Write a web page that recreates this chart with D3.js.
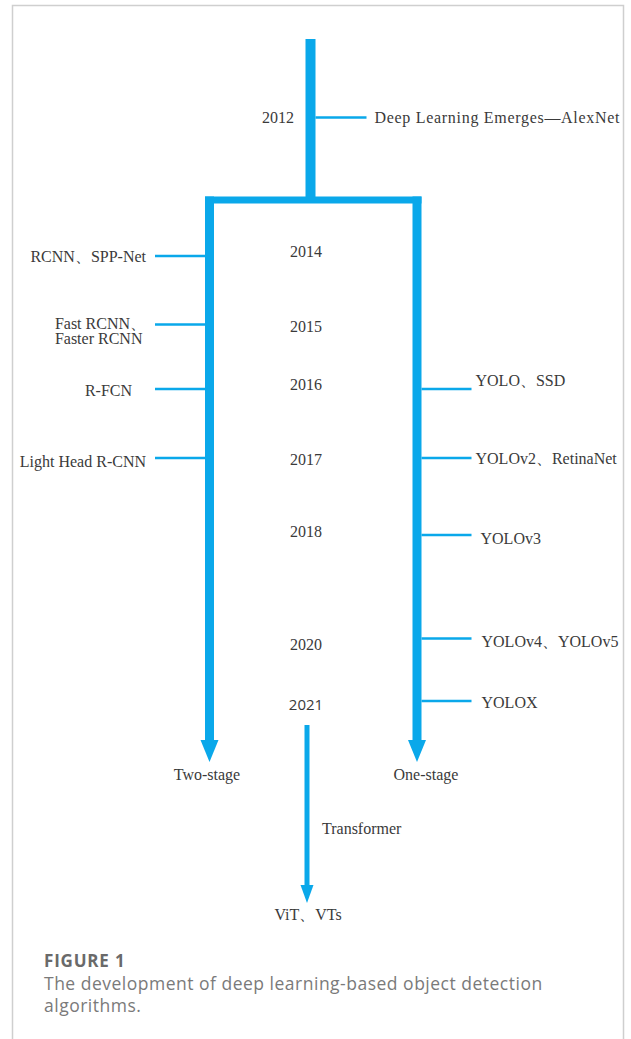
<!DOCTYPE html>
<html lang="en">
    <head>
        <meta charset="UTF-8" />
        <title>Object detection timeline</title>
        <style>
            body { margin: 0; background: #fff; }
        </style>
    </head>
    <body>
        <div id="main"></div>
        <script src="https://cdn.jsdelivr.net/npm/d3@7"></script>
        <script>
            // chart content
            const years = [2012, 2014, 2015, 2016, 2017, 2018, 2020, 2021]
            const originYear = 2012
            const originLabel = "Deep Learning Emerges—AlexNet"
            const twoStageYears = [2014, 2015, 2016, 2017]
            const twoStageModels = ["RCNN、SPP-Net", "Fast RCNN、\nFaster RCNN", "R-FCN", "Light Head R-CNN"]
            const oneStageYears = [2016, 2017, 2018, 2020, 2021]
            const oneStageModels = ["YOLO、SSD", "YOLOv2、RetinaNet", "YOLOv3", "YOLOv4、YOLOv5", "YOLOX"]
            const branchNames = ["Two-stage", "Transformer", "One-stage"]
            const transformerModels = "ViT、VTs"
            const captionTitle = "FIGURE 1"
            const captionLines = ["The development of deep learning-based object detection", "algorithms."]

            // layout
            const svgWidth = 631
            const svgHeight = 1039
            const blue = "#0aa8ea"
            const ink = "#3a3a3a"
            const serif = "'Liberation Serif', 'Times New Roman', serif"
            const sans = "'Open Sans', 'Noto Sans', sans-serif"
            const fontSize = 16
            const tickLength = 50
            const splitY = 200
            const stageTipY = 762
            const transformerTop = 725
            const transformerTipY = 903

            // year -> y of the branch ticks, year -> baseline of the year text
            const tickY = d3.scaleLinear()
                .domain(years)
                .range([117.5, 256, 324.5, 389, 458, 535, 638.5, 701])
            const yearY = d3.scaleLinear()
                .domain(years)
                .range([123, 256.7, 331.7, 390, 465, 537.3, 650, 710])
            const lane = d3.scaleOrdinal()
                .domain(["root", ...branchNames])
                .range([310.5, 209.5, 307, 417])

            // small hand placement tweaks for labels [dx, dy]
            const nudge = {
                "R-FCN": [-14, 1],
                "Light Head R-CNN": [0, 3],
                "YOLO、SSD": [-3, -9],
                "YOLOv2、RetinaNet": [-3, 0],
                "YOLOv3": [2, 3],
                "YOLOv4、YOLOv5": [3, 3],
                "YOLOX": [3, 1],
                "Two-stage": [-2.5, 0],
                "One-stage": [9, 0],
            }
            const nd = (k) => nudge[k] || [0, 0]

            const svg = d3.select("#main").append("svg")
                .attr("width", svgWidth)
                .attr("height", svgHeight)
                .style("display", "block")

            // frame
            svg.append("path")
                .attr("d", `M12.5,${svgHeight + 2}V5.5H623.5V${svgHeight + 2}`)
                .attr("fill", "none")
                .attr("stroke", "#cfcfcf")
                .attr("stroke-width", 1.5)

            const g = svg.append("g")

            // trunk and split bar
            g.append("rect")
                .attr("x", lane("root") - 5)
                .attr("y", 39)
                .attr("width", 10)
                .attr("height", splitY - 39)
                .attr("fill", blue)
            g.append("rect")
                .attr("x", lane("Two-stage") - 4.5)
                .attr("y", splitY - 3.5)
                .attr("width", lane("One-stage") - lane("Two-stage") + 9)
                .attr("height", 7)
                .attr("fill", blue)

            // two stage arrows
            const stages = ["Two-stage", "One-stage"]
            g.selectAll("rect.stage")
                .data(stages)
                .enter()
                .append("rect")
                .classed("stage", true)
                .attr("x", (d) => lane(d) - 4.5)
                .attr("y", splitY - 3.5)
                .attr("width", 9)
                .attr("height", stageTipY - 20 - splitY + 3.5)
                .attr("fill", blue)
            g.selectAll("path.stagehead")
                .data(stages)
                .enter()
                .append("path")
                .classed("stagehead", true)
                .attr("d", (d) => {
                    const x = lane(d)
                    return `M${x - 9},${stageTipY - 22}L${x + 9},${stageTipY - 22}L${x},${stageTipY}Z`
                })
                .attr("fill", blue)

            // transformer arrow
            const tx = lane("Transformer")
            g.append("rect")
                .attr("x", tx - 2.5)
                .attr("y", transformerTop)
                .attr("width", 5)
                .attr("height", transformerTipY - 17 - transformerTop)
                .attr("fill", blue)
            g.append("path")
                .attr("d", `M${tx - 6.5},${transformerTipY - 18}L${tx + 6.5},${transformerTipY - 18}L${tx},${transformerTipY}Z`)
                .attr("fill", blue)

            // branch ticks
            const leftEdge = lane("Two-stage") - 4.5
            const rightEdge = lane("One-stage") + 4.5
            const ticks = [
                { x1: lane("root") + 5, x2: lane("root") + 5 + 51, year: originYear },
                ...twoStageYears.map((y) => ({ x1: leftEdge - tickLength, x2: leftEdge, year: y })),
                ...oneStageYears.map((y) => ({ x1: rightEdge, x2: rightEdge + tickLength, year: y })),
            ]
            g.selectAll("line.tick")
                .data(ticks)
                .enter()
                .append("line")
                .classed("tick", true)
                .attr("x1", (d) => d.x1)
                .attr("x2", (d) => d.x2)
                .attr("y1", (d) => tickY(d.year))
                .attr("y2", (d) => tickY(d.year))
                .attr("stroke", blue)
                .attr("stroke-width", 2.5)

            // year labels
            g.selectAll("text.year")
                .data(years)
                .enter()
                .append("text")
                .classed("year", true)
                .attr("x", (d) => (d === originYear ? 278 : 306))
                .attr("y", (d) => yearY(d))
                .attr("text-anchor", "middle")
                .attr("font-family", (d) => (d === 2021 ? sans : serif))
                .attr("font-size", (d) => (d === 2021 ? 15 : fontSize))
                .attr("fill", ink)
                .text((d) => d)

            // origin label
            g.append("text")
                .attr("x", lane("root") + 5 + 51 + 8)
                .attr("y", yearY(originYear))
                .attr("font-family", serif)
                .attr("font-size", fontSize)
                .attr("letter-spacing", 0.7)
                .attr("fill", ink)
                .text(originLabel)

            // two-stage models (right of the block ends near the line)
            const leftLabels = g.selectAll("text.left")
                .data(twoStageModels.map((m, i) => ({ name: m, year: twoStageYears[i] })))
                .enter()
                .append("text")
                .classed("left", true)
                .attr("font-family", serif)
                .attr("font-size", fontSize)
                .attr("fill", ink)
            leftLabels.each(function (d) {
                const lines = d.name.split("\n")
                const [dx, dy] = nd(d.name)
                const right = leftEdge - tickLength - 9 + dx
                const y0 = tickY(d.year) + (lines.length > 1 ? 4 : 5.5) + dy
                const text = d3.select(this)
                const spans = text
                    .selectAll("tspan")
                    .data(lines)
                    .enter()
                    .append("tspan")
                    .attr("y", (l, i) => y0 + i * 15)
                    .text((l) => l)
                // block is left aligned, its widest line ends at `right`
                let w = 0
                spans.each(function () {
                    w = Math.max(w, this.getComputedTextLength())
                })
                spans.attr("x", right - w)
            })

            // one-stage models (left aligned, right of the line)
            g.selectAll("text.right")
                .data(oneStageModels.map((m, i) => ({ name: m, year: oneStageYears[i] })))
                .enter()
                .append("text")
                .classed("right", true)
                .attr("x", (d) => rightEdge + tickLength + 7 + nd(d.name)[0])
                .attr("y", (d) => tickY(d.year) + 5.5 + nd(d.name)[1])
                .attr("font-family", serif)
                .attr("font-size", fontSize)
                .attr("fill", ink)
                .text((d) => d.name)

            // branch names
            g.selectAll("text.stage")
                .data(stages)
                .enter()
                .append("text")
                .classed("stage", true)
                .attr("x", (d) => lane(d) + nd(d)[0])
                .attr("y", stageTipY + 18)
                .attr("text-anchor", "middle")
                .attr("font-family", serif)
                .attr("font-size", fontSize)
                .attr("fill", ink)
                .text((d) => d)
            g.append("text")
                .attr("x", tx + 15)
                .attr("y", 834)
                .attr("font-family", serif)
                .attr("font-size", fontSize)
                .attr("fill", ink)
                .text("Transformer")
            g.append("text")
                .attr("x", tx + 1)
                .attr("y", transformerTipY + 17)
                .attr("text-anchor", "middle")
                .attr("font-family", serif)
                .attr("font-size", fontSize)
                .attr("fill", ink)
                .text(transformerModels)

            // caption
            const cap = svg.append("g").attr("font-family", sans)
            cap.append("text")
                .attr("x", 44)
                .attr("y", 967)
                .attr("font-size", 17)
                .attr("font-weight", 700)
                .attr("letter-spacing", 0.8)
                .attr("fill", "#6a6a6a")
                .text(captionTitle)
            cap.selectAll("text.line")
                .data(captionLines)
                .enter()
                .append("text")
                .classed("line", true)
                .attr("x", 44)
                .attr("y", (d, i) => 989.5 + i * 22.5)
                .attr("font-size", 17.5)
                .attr("letter-spacing", 0.5)
                .attr("fill", "#7a7a7a")
                .text((d) => d)
        </script>
    </body>
</html>
